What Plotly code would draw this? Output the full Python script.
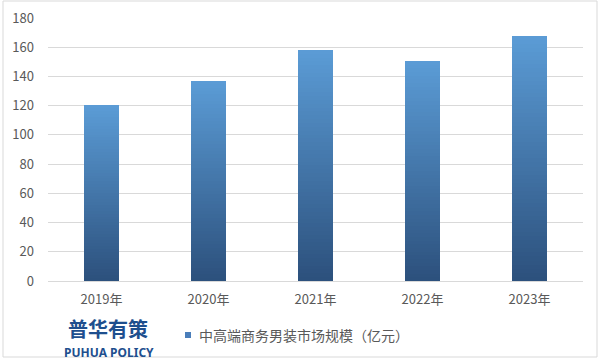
import plotly.graph_objects as go

categories = ["2019年", "2020年", "2021年", "2022年", "2023年"]
values = [120.3, 136.9, 158.2, 150.6, 167.9]
series_name = "中高端商务男装市场规模（亿元）"
y_ticks = [0, 20, 40, 60, 80, 100, 120, 140, 160, 180]

TOP = (91, 156, 214)
BOTTOM = (44, 80, 124)
N = 60

def mix(t):
    c = [round(BOTTOM[i] + (TOP[i] - BOTTOM[i]) * t) for i in range(3)]
    return f"rgb({c[0]},{c[1]},{c[2]})"

# plot area in pixels: x 48..583, y 18..281
PL, PR, PT, PB = 48, 583, 18, 281
W, H = PR - PL, PB - PT
def px(x):
    return (x - PL) / W
def py(y):
    return (PB - y) / H

fig = go.Figure()
for k in range(N):
    fig.add_trace(go.Bar(
        x=categories,
        y=[v / N for v in values],
        marker=dict(color=mix((k + 0.5) / N), line=dict(width=0)),
        showlegend=False,
        hoverinfo="skip",
    ))

fig.update_layout(
    width=601, height=360,
    margin=dict(l=PL, r=601 - PR, t=PT, b=360 - PB, autoexpand=False),
    barmode="stack",
    bargap=0.68,
    plot_bgcolor="white",
    paper_bgcolor="white",
    font=dict(family="Noto Sans CJK SC", color="#595959", size=13),
    xaxis=dict(
        showgrid=False, showline=True, linecolor="#D9D9D9", linewidth=1,
        ticks="", tickfont=dict(size=13, color="#595959"), ticklabelstandoff=6,
    ),
    yaxis=dict(
        range=[0, 180], tickvals=y_ticks, showgrid=True, gridcolor="#D9D9D9",
        gridwidth=1, zeroline=False, showline=False, ticks="",
        tickfont=dict(size=13, color="#595959"), ticklabelstandoff=13,
    ),
    showlegend=False,
    shapes=[
        dict(type="rect", xref="paper", yref="paper",
             x0=px(3), x1=px(597), y0=py(357), y1=py(1),
             line=dict(color="#D9D9D9", width=1), layer="below"),
        dict(type="rect", xref="paper", yref="paper",
             x0=px(185), x1=px(191), y0=py(338), y1=py(332),
             line=dict(width=0), fillcolor="rgb(74,126,186)"),
    ],
    annotations=[
        dict(text=series_name, xref="paper", yref="paper",
             x=px(197), y=py(335), xanchor="left", yanchor="middle",
             showarrow=False, font=dict(size=14, color="#595959")),
        dict(text="<b>普华有策</b>", xref="paper", yref="paper",
             x=px(108), y=py(328), xanchor="center", yanchor="middle",
             showarrow=False, font=dict(size=20, color="#1E4F8E", family="Noto Sans CJK SC")),
        dict(text="<b>PUHUA POLICY</b>", xref="paper", yref="paper",
             x=px(109), y=py(352), xanchor="center", yanchor="middle",
             showarrow=False, font=dict(size=12, color="#1E4F8E", family="Noto Sans")),
    ],
)

fig.write_html("out.html", config={"displayModeBar": False},
               post_script="document.body.style.margin='0';")
